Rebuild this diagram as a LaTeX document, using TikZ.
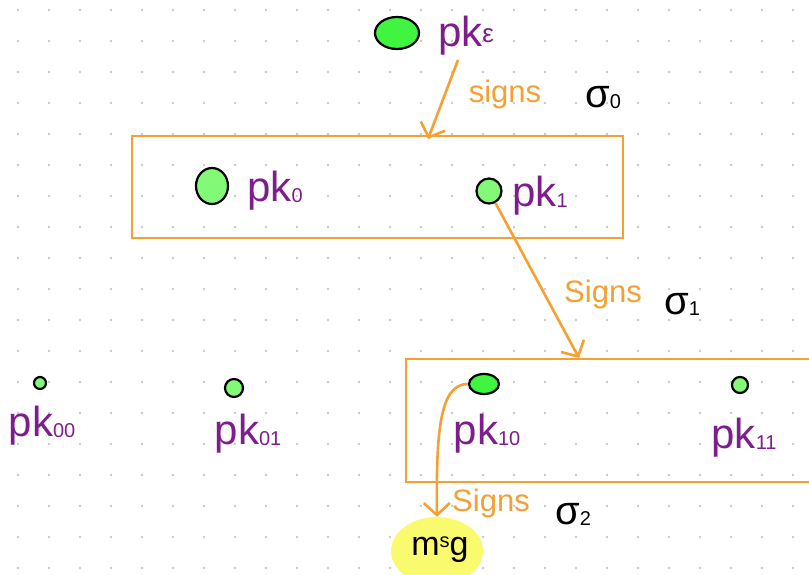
\documentclass[tikz,border=0pt]{standalone}
\usepackage{fontspec}
\setmainfont{Liberation Sans}
\usetikzlibrary{arrows.meta,shapes.geometric}
\definecolor{dotc}{RGB}{200,200,200}
\definecolor{orng}{RGB}{245,160,50}
\definecolor{purp}{RGB}{125,30,140}
\definecolor{gbright}{RGB}{64,245,64}
\definecolor{glight}{RGB}{130,250,120}
\definecolor{yel}{RGB}{250,250,110}
\newcommand{\sbs}[1]{\raisebox{-1pt}{\fontsize{20}{20}\selectfont #1}}
\tikzset{
  key/.style={ellipse,draw=black,line width=2.2pt,inner sep=0pt},
  lbl/.style={text=purp,font=\fontsize{42}{42}\selectfont,inner sep=0pt},
  sg/.style={text=orng,font=\fontsize{31}{31}\selectfont,inner sep=0pt},
  sig/.style={text=black,font=\fontsize{40}{40}\selectfont,inner sep=0pt},
  grp/.style={draw=orng,line width=2.6pt,rectangle,inner sep=0pt},
  arr/.style={draw=orng,line width=2.6pt,-{Straight Barb[length=12pt,width=26pt,line width=2.6pt]}},
}
\begin{document}
\begin{tikzpicture}[x=1pt,y=-1pt]
\clip (0,0) rectangle (809,575);
\fill[white] (0,0) rectangle (809,575);
\foreach \i in {0,...,25}{\foreach \j in {0,...,18}{\fill[dotc] ({18+31*\i},{10+31*\j}) circle (1.4);}}
% top key
\node[key,fill=gbright,minimum width=44pt,minimum height=32pt] (pke) at (397,33) {};
\node[lbl] (pkel) at (466,36) {pk\raisebox{4pt}{\fontsize{26}{26}\selectfont ε}};
\coordinate (a1s) at (458,60);
\coordinate (a1e) at (428,139);
\draw[arr] (a1s) -- (a1e);
\node[sg] (s0) at (505,94) {signs};
\node[sig] (sig0) at (603,98) {σ\sbs{0}};
% box 1
\node[grp,minimum width=491pt,minimum height=102pt] (box1) at (377.5,187) {};
\node[key,fill=glight,minimum width=32pt,minimum height=36pt] (pk0) at (212,186) {};
\node[lbl] (pk0l) at (275,191) {pk\sbs{0}};
\node[key,fill=glight,minimum width=25pt,minimum height=25pt] (pk1) at (489,191) {};
\node[lbl] (pk1l) at (540,196) {pk\sbs{1}};
\coordinate (a2e) at (579,358);
\draw[arr] (pk1) -- (a2e);
\node[sg] (s1) at (603,294) {Signs};
\node[sig] (sig1) at (682,304) {σ\sbs{1}};
% box 2
\draw[draw=orng,line width=2.6pt] (406,359) rectangle (830,482);
\node[key,fill=glight,minimum width=12pt,minimum height=12pt] (pk00) at (40,383) {};
\node[lbl] (pk00l) at (42,426) {pk\sbs{00}};
\node[key,fill=glight,minimum width=18pt,minimum height=18pt] (pk01) at (234,388) {};
\node[lbl] (pk01l) at (248,434) {pk\sbs{01}};
\node[key,fill=gbright,minimum width=30pt,minimum height=20pt] (pk10) at (484,384) {};
\node[lbl] (pk10l) at (487,434) {pk\sbs{10}};
\node[key,fill=glight,minimum width=16pt,minimum height=16pt] (pk11) at (740,385) {};
\node[lbl] (pk11l) at (744,438) {pk\sbs{11}};
% msg
\node[ellipse,fill=yel,minimum width=92pt,minimum height=68pt,inner sep=0pt] (msg) at (437,551) {};
\node[text=black,font=\fontsize{34}{34}\selectfont,inner sep=0pt] (msgl) at (440,550) {m\raisebox{8pt}{\fontsize{20}{20}\selectfont s}g};
\draw[arr] (pk10.west) .. controls (440,384) and (436,430) .. (msg.north);
\node[sg] (s2) at (491,503) {Signs};
\node[sig] (sig2) at (573,514) {σ\sbs{2}};
\end{tikzpicture}
\end{document}
